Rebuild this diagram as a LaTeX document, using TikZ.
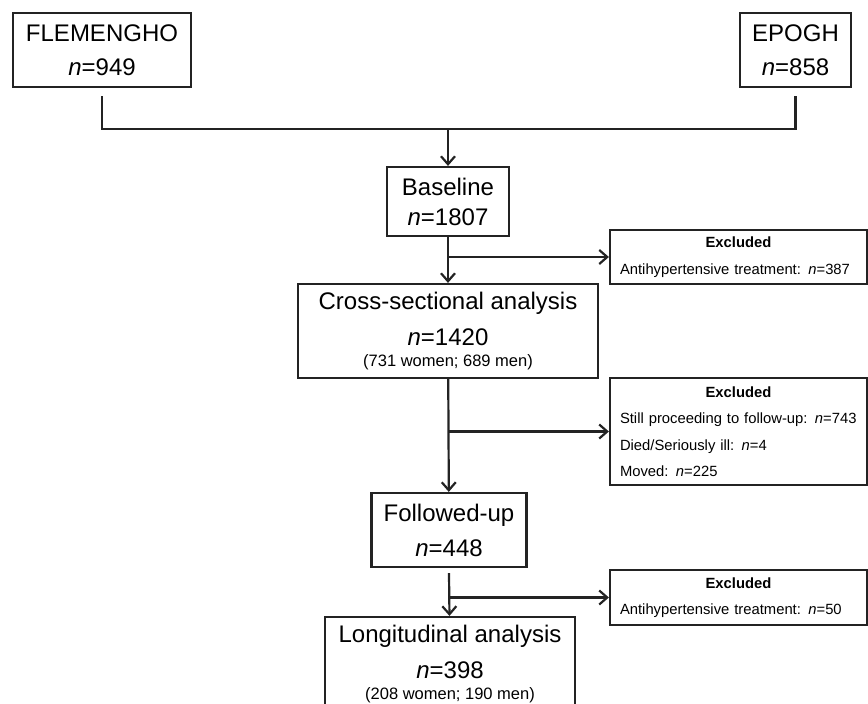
\documentclass[tikz,border=0pt]{standalone}
\usepackage{fontspec}
\setmainfont{Liberation Sans}
\usepackage{tikz}
\usetikzlibrary{arrows.meta}
\definecolor{framegray}{RGB}{35,35,35}
\newcommand{\subsize}{\fontsize{16.5}{18}\selectfont}
\newcommand{\exhead}{\null\hfill\textbf{Excluded}\hfill\null}

\begin{document}
\begin{tikzpicture}[
    x=1pt, y=-1pt,
    font=\fontsize{24}{30}\selectfont,
    box/.style={draw=framegray, line width=2.2pt, inner sep=0pt, align=center},
    exbox/.style={box, align=left, text width=237pt, inner xsep=10pt, font=\fontsize{14.8}{26.5}\selectfont},
    arrow/.style={-{Straight Barb[length=8pt, width=14pt]}, line width=2.2pt, draw=framegray},
    line/.style={line width=2.2pt, draw=framegray},
]
\useasboundingbox (0,0) rectangle (868,704);

% Cohorts
\node[box, minimum width=178pt, minimum height=74pt] (fle) at (102,50) {FLEMENGHO\\[4pt] \textit{n}=949};
\node[box, minimum width=111pt, minimum height=74pt] (epogh) at (795.5,50) {EPOGH\\[4pt] \textit{n}=858};
\coordinate (join) at (448,129);

% Main path
\node[box, minimum width=122pt, minimum height=69pt] (base) at (448,201.5) {Baseline\\ \textit{n}=1807};
\node[box, minimum width=300pt, minimum height=94pt] (cs) at (448,331) {Cross-sectional analysis\\[6pt] \textit{n}=1420\\[-9pt] {\subsize (731 women; 689 men)}};
\node[box, minimum width=155pt, minimum height=74pt] (fu) at (449,530) {Followed-up\\[5pt] \textit{n}=448};
\node[box, minimum width=250pt, minimum height=94pt] (lon) at (450,664) {Longitudinal analysis\\[6pt] \textit{n}=398\\[-9pt] {\subsize (208 women; 190 men)}};

% Exclusions
\node[exbox, minimum height=54pt] (ex1) at (738.5,257) {\exhead\\ Antihypertensive treatment: \textit{n}=387};
\node[exbox, minimum height=107pt] (ex2) at (738.5,431.5) {\exhead\\ Still proceeding to follow-up: \textit{n}=743\\ Died/Seriously ill: \textit{n}=4\\ Moved: \textit{n}=225};
\node[exbox, minimum height=55pt] (ex3) at (738.5,597.5) {\exhead\\ Antihypertensive treatment: \textit{n}=50};

\draw[line] ([yshift=-8pt]fle.south) |- (join) -| ([yshift=-8pt]epogh.south);
\draw[arrow] (join) -- (base);
\draw[arrow] (base) -- (cs);
\draw[arrow] (base.south |- ex1.west) -- (ex1);
\draw[arrow] (cs) -- (fu);
\draw[arrow] (cs.south |- ex2.west) -- (ex2);
\draw[arrow] ([yshift=-5pt]fu.south) -- (lon);
\draw[arrow] (fu.south |- ex3.west) -- (ex3);
\end{tikzpicture}
\end{document}
